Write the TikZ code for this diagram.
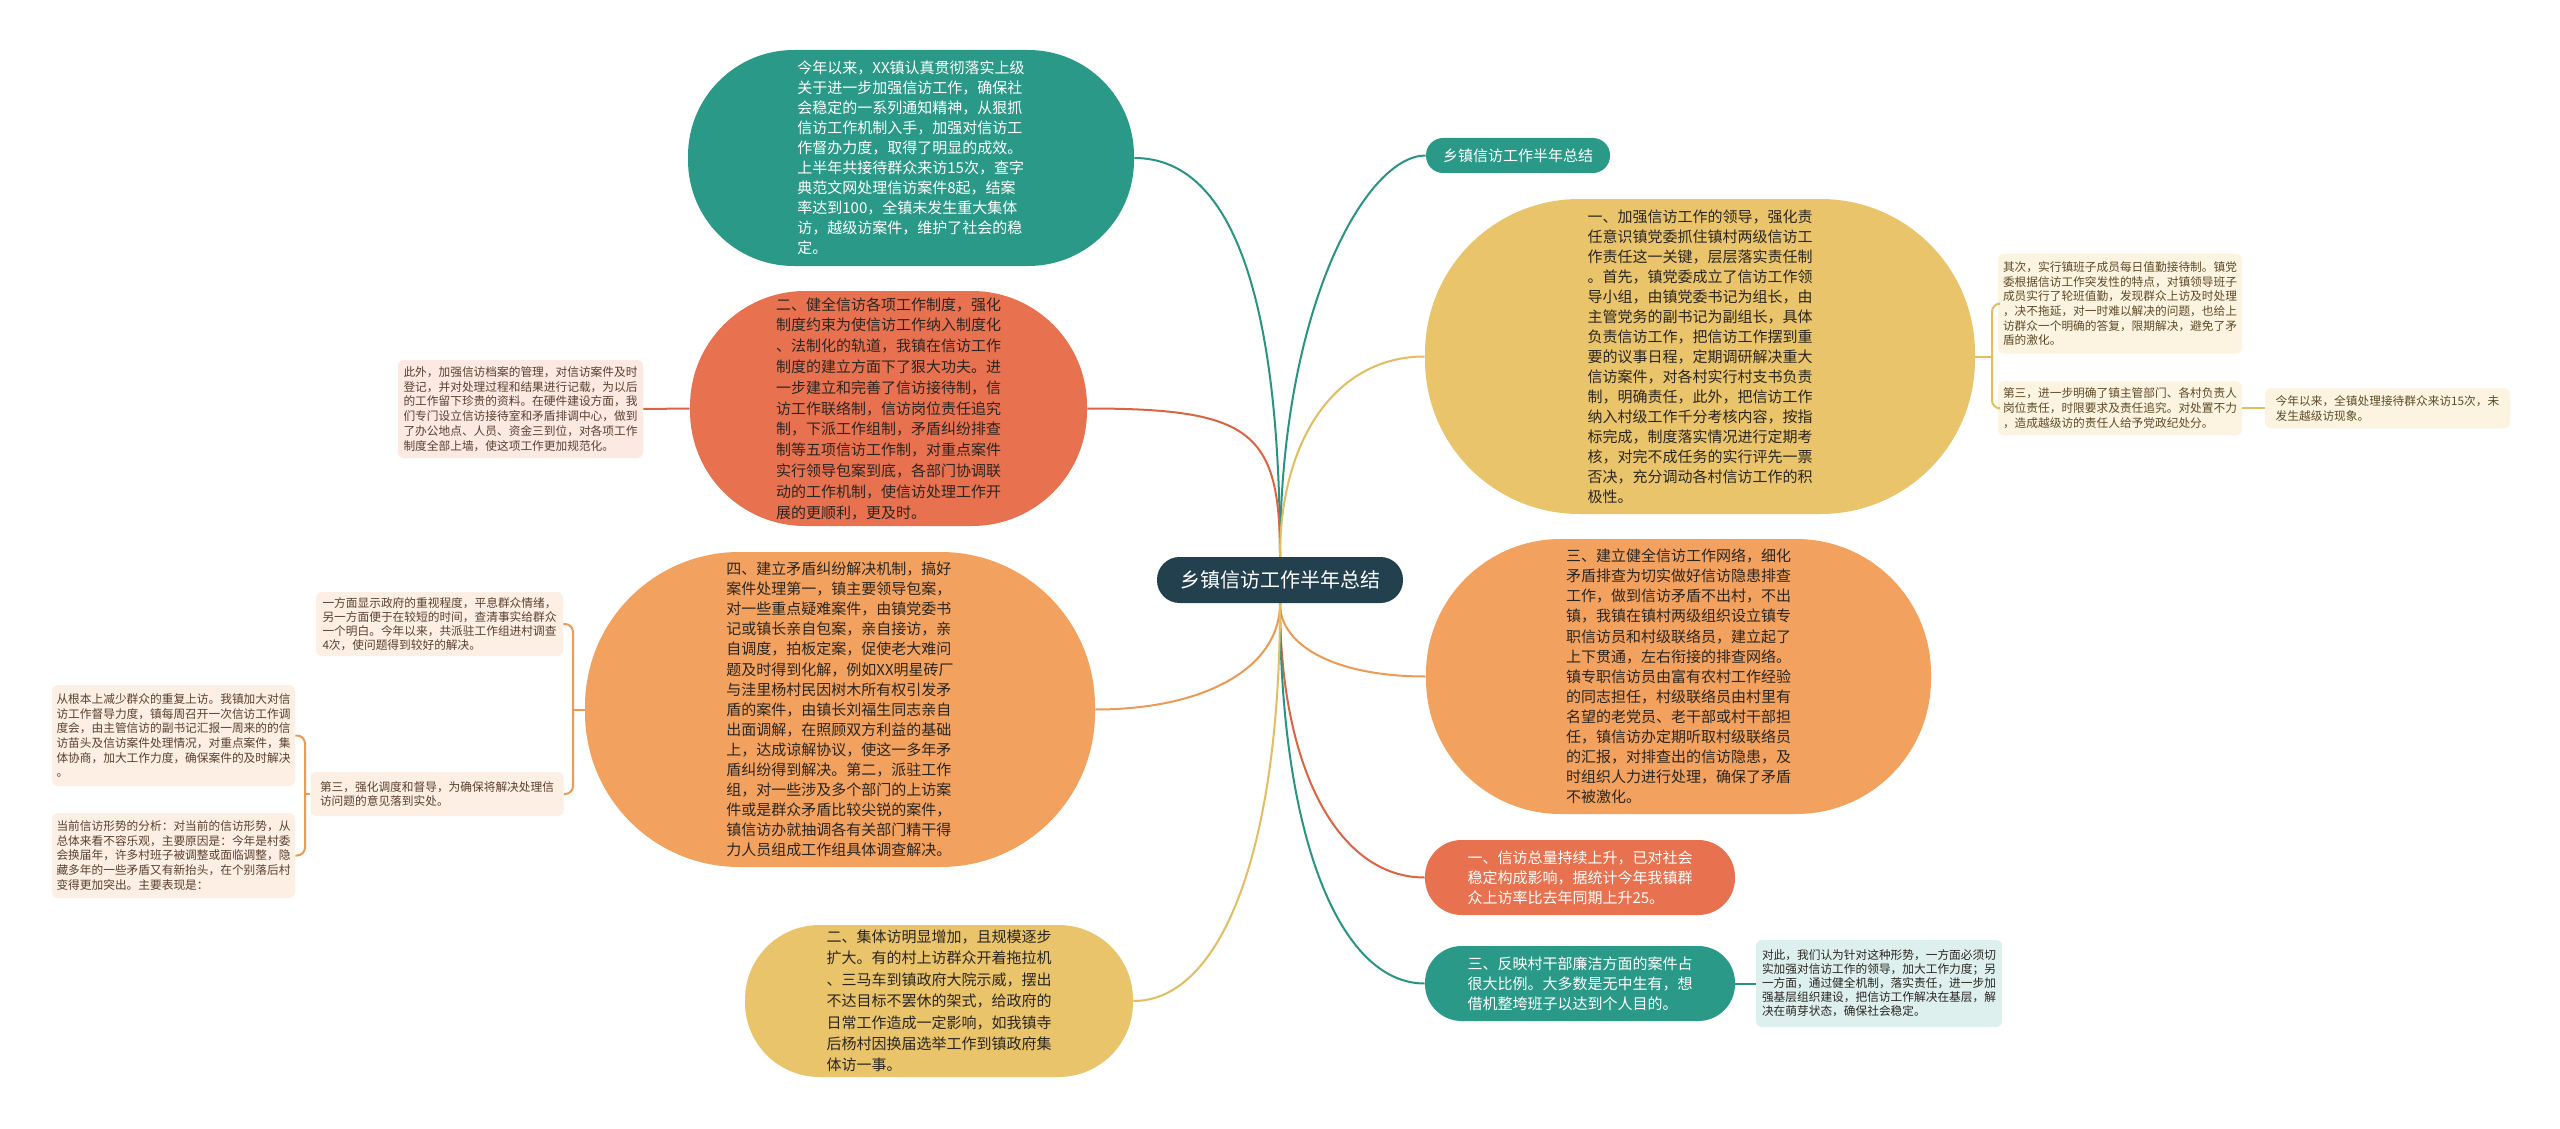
\documentclass[tikz,border=0pt]{standalone}
\usepackage{fontspec}
\newfontfamily\cjk{Noto Sans CJK SC}
\usetikzlibrary{calc}
\definecolor{cteal}{HTML}{2A9987}
\definecolor{ccoral}{HTML}{E8714F}
\definecolor{corange}{HTML}{F2A25E}
\definecolor{cyellow}{HTML}{E9C46A}
\definecolor{cdark}{HTML}{23404F}
\definecolor{lteal}{HTML}{2A9483}
\definecolor{lcoral}{HTML}{DC6442}
\definecolor{lorange}{HTML}{EE9A55}
\definecolor{lyellow}{HTML}{E3BD62}
\definecolor{fcoral}{HTML}{FBE9E2}
\definecolor{forange}{HTML}{FDEFE4}
\definecolor{fyellow}{HTML}{FCF4E0}
\definecolor{fteal}{HTML}{DDF0ED}
\definecolor{tdark}{HTML}{2B2622}
\definecolor{tbrown}{HTML}{5A4030}
\definecolor{tolive}{HTML}{5E4A28}
\newcommand\mmc[5]{\draw[conn,#1] (#2) .. controls ($(#2)!#4!(#2|-#3)$) and ($(#3)!#5!(#3-|#2)$) .. (#3);}
\begin{document}
\begin{tikzpicture}[x=0.5pt,y=-0.5pt,
 fnt/.style 2 args={font=\cjk\fontsize{#1}{#2}\selectfont},
 bub/.style n args={4}{rectangle, fill=#3, text=#4, minimum width=#1*0.5pt, minimum height=#2*0.5pt, rounded corners=#2*0.245pt, inner sep=0pt, align=left},
 leaf/.style n args={4}{rectangle, fill=#3, text=#4, minimum width=#1*0.5pt, minimum height=#2*0.5pt, rounded corners=3pt, inner sep=0pt, align=left},
 conn/.style={line width=1pt},
 brk/.style={line width=1pt, rounded corners=4pt}]
\fill[white] (0,0) rectangle (2560,1129);
\path[use as bounding box] (0,0) rectangle (2560,1129);

% center
\node[bub={246}{46}{cdark}{white}, fnt={10pt}{12pt}] (C) at (1280,580) {乡镇信访工作半年总结};
\node[bub={184}{35}{cteal}{white}, fnt={7.5pt}{9pt}] (TL) at (1518,155.5) {乡镇信访工作半年总结};

% big bubbles left
\node[bub={446}{216}{cteal}{white}, fnt={7.5pt}{10pt}] (TB) at (911,158) {今年以来，XX镇认真贯彻落实上级\\
关于进一步加强信访工作，确保社\\
会稳定的一系列通知精神，从狠抓\\
信访工作机制入手，加强对信访工\\
作督办力度，取得了明显的成效。\\
上半年共接待群众来访15次，查字\\
典范文网处理信访案件8起，结案\\
率达到100，全镇未发生重大集体\\
访，越级访案件，维护了社会的稳\\
定。};

\node[bub={397}{235}{ccoral}{tdark}, fnt={7.5pt}{10.4pt}] (RB) at (888.5,408.5) {二、健全信访各项工作制度，强化\\
制度约束为使信访工作纳入制度化\\
、法制化的轨道，我镇在信访工作\\
制度的建立方面下了狠大功夫。进\\
一步建立和完善了信访接待制，信\\
访工作联络制，信访岗位责任追究\\
制，下派工作组制，矛盾纠纷排查\\
制等五项信访工作制，对重点案件\\
实行领导包案到底，各部门协调联\\
动的工作机制，使信访处理工作开\\
展的更顺利，更及时。};

\node[bub={510}{315}{corange}{tdark}, fnt={7.5pt}{10.05pt}] (OB) at (840,709.5) {四、建立矛盾纠纷解决机制，搞好\\
案件处理第一，镇主要领导包案，\\
对一些重点疑难案件，由镇党委书\\
记或镇长亲自包案，亲自接访，亲\\
自调度，拍板定案，促使老大难问\\
题及时得到化解，例如XX明星砖厂\\
与洼里杨村民因树木所有权引发矛\\
盾的案件，由镇长刘福生同志亲自\\
出面调解，在照顾双方利益的基础\\
上，达成谅解协议，使这一多年矛\\
盾纠纷得到解决。第二，派驻工作\\
组，对一些涉及多个部门的上访案\\
件或是群众矛盾比较尖锐的案件，\\
镇信访办就抽调各有关部门精干得\\
力人员组成工作组具体调查解决。};

\node[bub={388}{152}{cyellow}{tdark}, fnt={7.5pt}{10.7pt}] (YB2) at (939,1001) {二、集体访明显增加，且规模逐步\\
扩大。有的村上访群众开着拖拉机\\
、三马车到镇政府大院示威，摆出\\
不达目标不罢休的架式，给政府的\\
日常工作造成一定影响，如我镇寺\\
后杨村因换届选举工作到镇政府集\\
体访一事。};

% big bubbles right
\node[bub={550}{315}{cyellow}{tdark}, fnt={7.5pt}{10pt}] (YB) at (1700,356.5) {一、加强信访工作的领导，强化责\\
任意识镇党委抓住镇村两级信访工\\
作责任这一关键，层层落实责任制\\
。首先，镇党委成立了信访工作领\\
导小组，由镇党委书记为组长，由\\
主管党务的副书记为副组长，具体\\
负责信访工作，把信访工作摆到重\\
要的议事日程，定期调研解决重大\\
信访案件，对各村实行村支书负责\\
制，明确责任，此外，把信访工作\\
纳入村级工作千分考核内容，按指\\
标完成，制度落实情况进行定期考\\
核，对完不成任务的实行评先一票\\
否决，充分调动各村信访工作的积\\
极性。};

\node[bub={505}{275}{corange}{tdark}, fnt={7.5pt}{10.05pt}] (OR) at (1678.5,676.5) {三、建立健全信访工作网络，细化\\
矛盾排查为切实做好信访隐患排查\\
工作，做到信访矛盾不出村，不出\\
镇，我镇在镇村两级组织设立镇专\\
职信访员和村级联络员，建立起了\\
上下贯通，左右衔接的排查网络。\\
镇专职信访员由富有农村工作经验\\
的同志担任，村级联络员由村里有\\
名望的老党员、老干部或村干部担\\
任，镇信访办定期听取村级联络员\\
的汇报，对排查出的信访隐患，及\\
时组织人力进行处理，确保了矛盾\\
不被激化。};

\node[bub={310}{75}{ccoral}{white}, fnt={7.5pt}{10pt}] (R1) at (1580,877.5) {一、信访总量持续上升，已对社会\\
稳定构成影响，据统计今年我镇群\\
众上访率比去年同期上升25。};

\node[bub={310}{75}{cteal}{white}, fnt={7.5pt}{10pt}] (T0) at (1580,983.5) {三、反映村干部廉洁方面的案件占\\
很大比例。大多数是无中生有，想\\
借机整垮班子以达到个人目的。};

% leaves
\node[leaf={245}{98}{fcoral}{tbrown}, fnt={5.85pt}{7.35pt}] (L1) at (520.5,409) {此外，加强信访档案的管理，对信访案件及时\\
登记，并对处理过程和结果进行记载，为以后\\
的工作留下珍贵的资料。在硬件建设方面，我\\
们专门设立信访接待室和矛盾排调中心，做到\\
了办公地点、人员、资金三到位，对各项工作\\
制度全部上墙，使这项工作更加规范化。};

\node[leaf={247}{64}{forange}{tbrown}, fnt={5.85pt}{7pt}] (O1) at (439.5,624) {一方面显示政府的重视程度，平息群众情绪，\\
另一方面便于在较短的时间，查清事实给群众\\
一个明白。今年以来，共派驻工作组进村调查\\
4次，使问题得到较好的解决。};

\node[leaf={253}{44}{forange}{tbrown}, fnt={5.85pt}{7.35pt}] (O2) at (437,794) {第三，强化调度和督导，为确保将解决处理信\\
访问题的意见落到实处。};

\node[leaf={243}{101}{forange}{tbrown}, fnt={5.85pt}{7.35pt}] (F1) at (173.5,735.5) {从根本上减少群众的重复上访。我镇加大对信\\
访工作督导力度，镇每周召开一次信访工作调\\
度会，由主管信访的副书记汇报一周来的的信\\
访苗头及信访案件处理情况，对重点案件，集\\
体协商，加大工作力度，确保案件的及时解决\\
。};

\node[leaf={243}{85}{forange}{tbrown}, fnt={5.85pt}{7.35pt}] (F2) at (173.5,855.5) {当前信访形势的分析：对当前的信访形势，从\\
总体来看不容乐观，主要原因是：今年是村委\\
会换届年，许多村班子被调整或面临调整，隐\\
藏多年的一些矛盾又有新抬头，在个别落后村\\
变得更加突出。主要表现是：};

\node[leaf={244}{100}{fyellow}{tolive}, fnt={5.85pt}{7.35pt}] (Y1) at (2120,303.7) {其次，实行镇班子成员每日值勤接待制。镇党\\
委根据信访工作突发性的特点，对镇领导班子\\
成员实行了轮班值勤，发现群众上访及时处理\\
，决不拖延，对一时难以解决的问题，也给上\\
访群众一个明确的答复，限期解决，避免了矛\\
盾的激化。};

\node[leaf={244}{54}{fyellow}{tolive}, fnt={5.85pt}{7.35pt}] (Y2) at (2120,408.3) {第三，进一步明确了镇主管部门、各村负责人\\
岗位责任，时限要求及责任追究。对处置不力\\
，造成越级访的责任人给予党政纪处分。};

\node[leaf={245}{40}{fyellow}{tolive}, fnt={5.85pt}{7.35pt}] (Y3) at (2387.5,408.3) {今年以来，全镇处理接待群众来访15次，未\\
发生越级访现象。};

\node[leaf={246}{87}{fteal}{tdark}, fnt={5.85pt}{7pt}] (T1) at (1879,983.5) {对此，我们认为针对这种形势，一方面必须切\\
实加强对信访工作的领导，加大工作力度；另\\
一方面，通过健全机制，落实责任，进一步加\\
强基层组织建设，把信访工作解决在基层，解\\
决在萌芽状态，确保社会稳定。};

% main connectors
\mmc{lteal}{C.north}{TB.east}{0.62}{0.7}
\mmc{lteal}{C.north}{TL.west}{0.62}{0.41}
\mmc{lcoral}{C.north}{RB.east}{0.85}{0.85}
\mmc{lyellow}{C.north}{YB.west}{0.6}{0.6}
\mmc{lorange}{C.south}{OB.east}{0.6}{0.6}
\mmc{lorange}{C.south}{OR.west}{0.6}{0.6}
\mmc{lcoral}{C.south}{R1.west}{0.6}{0.6}
\mmc{lteal}{C.south}{T0.west}{0.6}{0.6}
\mmc{lyellow}{C.south}{YB2.east}{0.62}{0.6}

% child connectors
\draw[conn,lcoral] (RB.west) -- (L1.east);
\coordinate (bO) at (573,709.5);
\draw[conn,lorange] (OB.west) -- (bO);
\draw[brk,lorange] (O1.east) -- (O1.east -| bO) -- (O2.east -| bO) -- (O2.east);
\coordinate (bF) at (305,794);
\draw[conn,lorange] (O2.west) -- (bF);
\draw[brk,lorange] (F1.east) -- (F1.east -| bF) -- (F2.east -| bF) -- (F2.east);
\coordinate (bY) at (1992,356.5);
\draw[conn,lyellow] (YB.east) -- (bY);
\draw[brk,lyellow] (Y1.west) -- (Y1.west -| bY) -- (Y2.west -| bY) -- (Y2.west);
\draw[conn,lyellow] (Y2.east) -- (Y3.west);
\draw[conn,lteal] (T0.east) -- (T1.west);
\end{tikzpicture}
\end{document}
